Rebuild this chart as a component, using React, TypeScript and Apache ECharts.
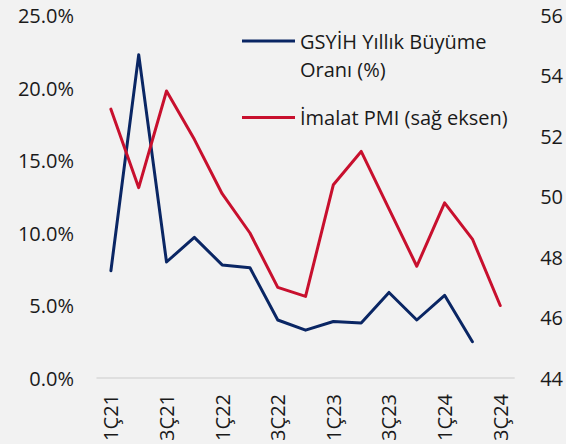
import React, { useEffect, useRef } from "react";
import * as echarts from "echarts";

const categories = ["1Ç21", "2Ç21", "3Ç21", "4Ç21", "1Ç22", "2Ç22", "3Ç22", "4Ç22", "1Ç23", "2Ç23", "3Ç23", "4Ç23", "1Ç24", "2Ç24", "3Ç24"];
const gdpGrowth = [7.4, 22.3, 8.0, 9.7, 7.8, 7.6, 4.0, 3.3, 3.9, 3.8, 5.9, 4.0, 5.7, 2.5, null];
const manufacturingPmi = [52.9, 50.3, 53.5, 51.9, 50.1, 48.8, 47.0, 46.7, 50.4, 51.5, 49.6, 47.7, 49.8, 48.6, 46.4];
const gdpName = "GSYİH Yıllık Büyüme\nOranı (%)";
const pmiName = "İmalat PMI (sağ eksen)";

const BLUE = "#0a2664";
const RED = "#c8102e";
const FONT = "'Open Sans', 'Noto Sans', sans-serif";
const TEXT = "#1a1a1a";
const FS = 20;

export default function App() {
  const ref = useRef<HTMLDivElement>(null);
  useEffect(() => {
    if (!ref.current) return;
    const chart = echarts.init(ref.current, null, { renderer: "svg" });
    chart.setOption({
      animation: false,
      backgroundColor: "#f2f2f2",
      textStyle: { fontFamily: FONT },
      grid: { left: 97, right: 50.5, top: 15.5, bottom: 66 },
      xAxis: {
        type: "category",
        data: categories,
        boundaryGap: true,
        axisLine: { show: true, lineStyle: { color: "#d9d9d9", width: 1.5 } },
        axisTick: { show: false },
        axisLabel: {
          interval: 1,
          rotate: 90,
          margin: 16,
          fontSize: FS,
          color: TEXT,
          fontFamily: FONT,
        },
      },
      yAxis: [
        {
          type: "value",
          min: 0,
          max: 25,
          interval: 5,
          splitLine: { show: false },
          axisLine: { show: false },
          axisTick: { show: false },
          axisLabel: {
            margin: 23,
            fontSize: FS,
            color: TEXT,
            fontFamily: FONT,
            formatter: (v: number) => v.toFixed(1) + "%",
          },
        },
        {
          type: "value",
          min: 44,
          max: 56,
          interval: 2,
          position: "right",
          splitLine: { show: false },
          axisLine: { show: false },
          axisTick: { show: false },
          axisLabel: {
            margin: 26,
            fontSize: FS,
            color: TEXT,
            fontFamily: FONT,
          },
        },
      ],
      series: [
        {
          name: gdpName,
          type: "line",
          yAxisIndex: 0,
          data: gdpGrowth,
          symbol: "none",
          lineStyle: { color: BLUE, width: 3, cap: "round", join: "round" },
          itemStyle: { color: BLUE },
        },
        {
          name: pmiName,
          type: "line",
          yAxisIndex: 1,
          data: manufacturingPmi,
          symbol: "none",
          lineStyle: { color: RED, width: 3, cap: "round", join: "round" },
          itemStyle: { color: RED },
        },
      ],
      graphic: [
        {
          type: "line",
          shape: { x1: 242, y1: 41, x2: 295, y2: 41 },
          style: { stroke: BLUE, lineWidth: 3 },
        },
        {
          type: "text",
          x: 300,
          y: 27.5,
          style: {
            text: gdpName,
            fontSize: FS,
            fontFamily: FONT,
            fill: TEXT,
            lineHeight: 28,
            verticalAlign: "top",
            align: "left",
          },
        },
        {
          type: "line",
          shape: { x1: 242, y1: 117.5, x2: 295, y2: 117.5 },
          style: { stroke: RED, lineWidth: 3 },
        },
        {
          type: "text",
          x: 300,
          y: 117.5,
          style: {
            text: pmiName,
            fontSize: FS,
            fontFamily: FONT,
            fill: TEXT,
            verticalAlign: "middle",
            align: "left",
          },
        },
      ],
    });
    return () => chart.dispose();
  }, []);
  return (
    <div
      ref={ref}
      style={{ position: "fixed", left: 0, top: 0, width: 566, height: 444 }}
    />
  );
}
